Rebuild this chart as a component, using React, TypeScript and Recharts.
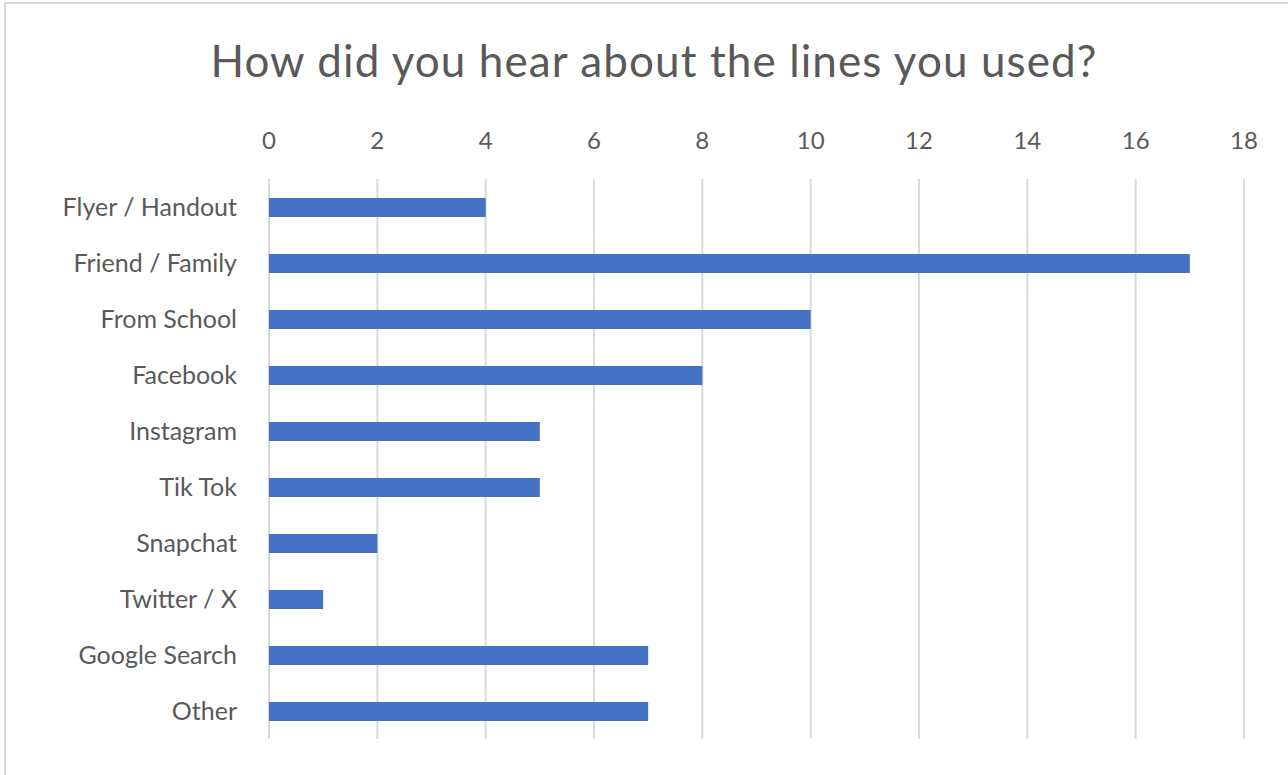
import React from "react";
import { BarChart, Bar, XAxis, YAxis, CartesianGrid } from "recharts";

const categories = [
  "Flyer / Handout",
  "Friend / Family",
  "From School",
  "Facebook",
  "Instagram",
  "Tik Tok",
  "Snapchat",
  "Twitter / X",
  "Google Search",
  "Other",
];
const counts = [4, 17, 10, 8, 5, 5, 2, 1, 7, 7];
const xTicks = [0, 2, 4, 6, 8, 10, 12, 14, 16, 18];

const data = categories.map((name, i) => ({ name, count: counts[i] }));

const FONT = "Lato, 'Open Sans', sans-serif";
const TEXT = "#595959";

export default function App() {
  return (
    <div
      style={{
        position: "absolute",
        left: 0,
        top: 0,
        width: 1288,
        height: 775,
        background: "#fff",
        overflow: "hidden",
        fontFamily: FONT,
      }}
    >
      {/* frame */}
      <div
        style={{
          position: "absolute",
          left: 4,
          top: 2,
          width: 1400,
          height: 900,
          borderLeft: "2px solid #d9d9d9",
          borderTop: "2px solid #d9d9d9",
        }}
      />
      {/* title */}
      <div
        style={{
          position: "absolute",
          left: 0,
          top: 32,
          width: 1308,
          textAlign: "center",
          fontSize: 44,
          lineHeight: "56px",
          letterSpacing: "1.1px",
          color: TEXT,
        }}
      >
        How did you hear about the lines you used?
      </div>
      <div style={{ position: "absolute", left: 0, top: 0 }}>
        <BarChart
          width={1288}
          height={775}
          data={data}
          layout="vertical"
          margin={{ top: 119, right: 44, bottom: 36, left: 0 }}
          barSize={19}
        >
          <CartesianGrid horizontal={false} stroke="#d9d9d9" strokeWidth={2} />
          <XAxis
            type="number"
            orientation="top"
            domain={[0, 18]}
            ticks={xTicks}
            height={60}
            axisLine={false}
            tickLine={false}
            tickMargin={24}
            tick={{ fill: TEXT, fontSize: 24, fontFamily: FONT }}
          />
          <YAxis
            type="category"
            dataKey="name"
            width={269}
            axisLine={false}
            tickLine={false}
            tickMargin={26}
            tick={{ fill: TEXT, fontSize: 25, fontFamily: FONT }}
            interval={0}
          />
          <Bar dataKey="count" fill="#4472c4" isAnimationActive={false} />
        </BarChart>
      </div>
    </div>
  );
}
